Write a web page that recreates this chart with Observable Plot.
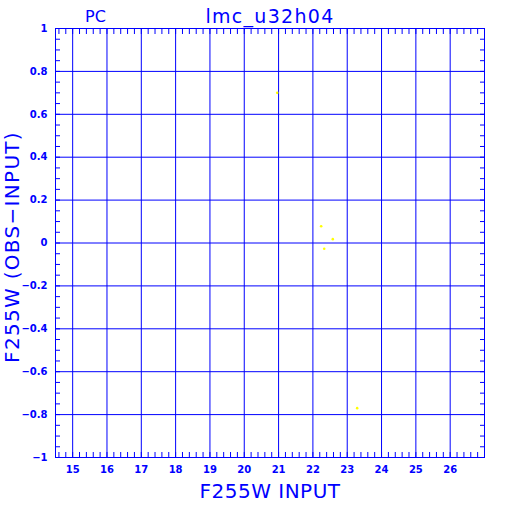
<!DOCTYPE html>
<html><head><meta charset="utf-8">
<script src="https://cdn.jsdelivr.net/npm/d3@7"></script>
<script src="https://cdn.jsdelivr.net/npm/@observablehq/plot@0.6"></script>
<style>body{margin:0;background:#fff}</style>
</head><body><div id="chart"></div>
<script>
const title = "lmc_u32h04";
const corner = "PC";
const xLabel = "F255W INPUT";
const yLabel = "F255W (OBS\u2212INPUT)";
const xTicks = [15, 16, 17, 18, 19, 20, 21, 22, 23, 24, 25, 26];
const yTicks = [-1, -0.8, -0.6, -0.4, -0.2, 0, 0.2, 0.4, 0.6, 0.8, 1];
const xDomain = [14.5, 27];
const yDomain = [-1, 1];
const starMag = [20.96, 22.24, 22.58, 22.33, 23.29];
const starDelta = [0.70, 0.078, 0.018, -0.027, -0.77];
const xMinor = d3.range(146, 270, 2).map(d => d / 10);
const yMinor = d3.range(-100, 101, 5).map(d => d / 100);

const blue = "#0000ff";
const stars = starMag.map((m, i) => ({mag: m, delta: starDelta[i]}));
const fmtY = d => d === 0 ? "0" : (d < 0 ? "\u2212" : "") + String(Math.abs(d));

const chart = Plot.plot({
  width: 512, height: 512,
  marginLeft: 55, marginRight: 28, marginTop: 28, marginBottom: 55,
  x: {domain: xDomain},
  y: {domain: yDomain},
  style: {fontFamily: "DejaVu Sans, sans-serif", color: blue, background: "white"},
  marks: [
    Plot.gridX(xTicks, {stroke: blue, strokeOpacity: 1}),
    Plot.gridY(yTicks, {stroke: blue, strokeOpacity: 1}),
    Plot.axisX(xMinor, {anchor: "bottom", tickSize: -5, tickFormat: () => "", label: null, stroke: blue}),
    Plot.axisX(xMinor, {anchor: "top", tickSize: -5, tickFormat: () => "", label: null, stroke: blue}),
    Plot.axisY(yMinor, {anchor: "left", tickSize: -5, tickFormat: () => "", label: null, stroke: blue}),
    Plot.axisY(yMinor, {anchor: "right", tickSize: -5, tickFormat: () => "", label: null, stroke: blue}),
    Plot.axisX(xTicks, {anchor: "bottom", tickSize: 0, tickPadding: 8, label: null, fill: blue, fontSize: 10, fontWeight: "bold"}),
    Plot.axisY(yTicks, {anchor: "left", tickSize: 0, tickPadding: 8, tickFormat: fmtY, label: null, fill: blue, fontSize: 10, fontWeight: "bold"}),
    Plot.frame({stroke: blue}),
    Plot.dot(stars, {x: "mag", y: "delta", r: 1.3, fill: "#ffff00", stroke: null}),
    Plot.text([title], {frameAnchor: "top", dy: -12, fontSize: 19, fill: blue, lineAnchor: "middle", textAnchor: "middle"}),
    Plot.text([corner], {frameAnchor: "top-left", dx: 40, dy: -12, fontSize: 16, fill: blue, lineAnchor: "middle", textAnchor: "middle"}),
    Plot.text([xLabel], {frameAnchor: "bottom", dy: 34, fontSize: 20, fill: blue, lineAnchor: "middle", textAnchor: "middle"}),
    Plot.text([yLabel], {frameAnchor: "left", dx: -43, dy: 4, rotate: -90, fontSize: 20, fill: blue, lineAnchor: "middle", textAnchor: "middle"})
  ]
});
const spacing = new Map([[title, 1.3], [xLabel, 0.5], [yLabel, 1.3]]);
d3.select(chart).selectAll("text").each(function () {
  const s = spacing.get(this.textContent);
  if (s != null) this.setAttribute("letter-spacing", s);
});
document.getElementById("chart").appendChild(chart);
</script>
</body></html>
